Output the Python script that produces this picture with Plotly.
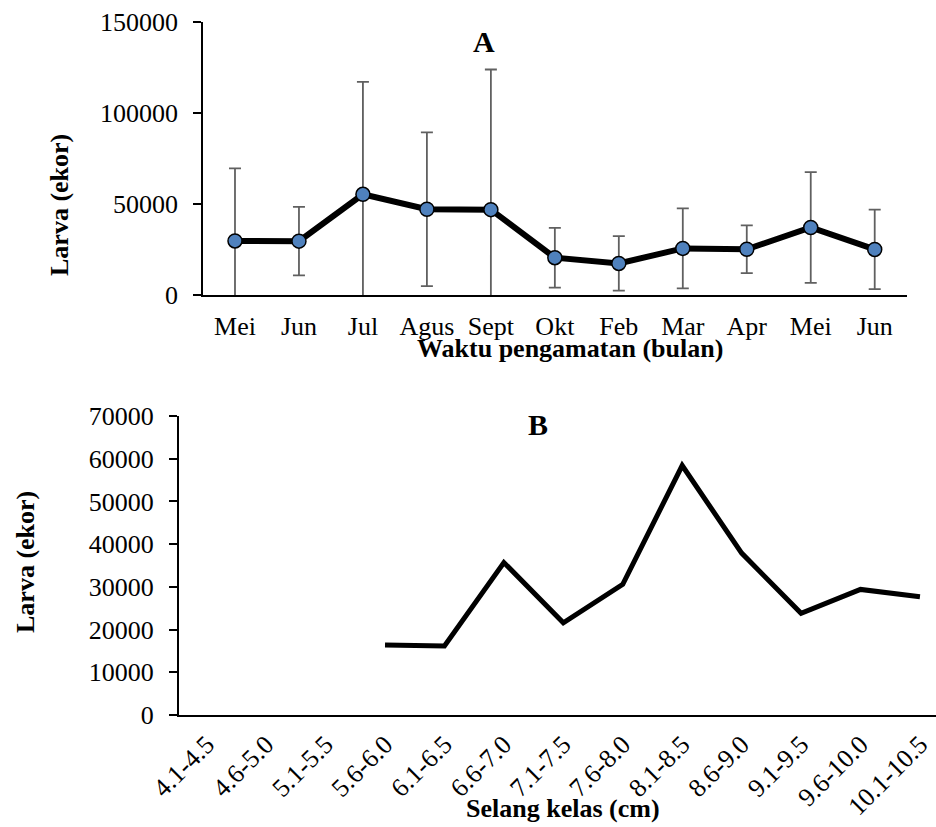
import plotly.graph_objects as go

# Panel A data
months = ["Mei", "Jun", "Jul", "Agus", "Sept", "Okt", "Feb", "Mar", "Apr", "Mei", "Jun"]
larva_mean = [29700, 29600, 55300, 47100, 46900, 20500, 17350, 25600, 25150, 37100, 25050]
larva_sd = [39900, 18800, 61800, 42200, 77000, 16400, 14950, 22000, 13150, 30400, 21850]

# Panel B data
size_classes = ["4.1-4.5", "4.6-5.0", "5.1-5.5", "5.6-6.0", "6.1-6.5", "6.6-7.0", "7.1-7.5",
                "7.6-8.0", "8.1-8.5", "8.6-9.0", "9.1-9.5", "9.6-10.0", "10.1-10.5"]
larva_by_size = [None, None, None, 16400, 16150, 35700, 21600, 30600, 58400, 37900, 23800, 29400, 27700]

FONT = "Liberation Serif"
W, H = 936, 827

xa = list(range(len(months)))

fig = go.Figure()
fig.add_trace(go.Scatter(
    x=xa, y=larva_mean, mode="lines+markers",
    line=dict(color="black", width=6),
    marker=dict(size=14, color="#4F81BD", line=dict(color="black", width=1.5)),
    error_y=dict(type="data", array=larva_sd, symmetric=True, color="#606060", thickness=1.8, width=6),
    xaxis="x", yaxis="y", showlegend=False,
))
fig.add_trace(go.Scatter(
    x=size_classes, y=larva_by_size, mode="lines",
    line=dict(color="black", width=5),
    connectgaps=False,
    xaxis="x2", yaxis="y2", showlegend=False,
))

tickfont = dict(family=FONT, size=26, color="black")

fig.update_layout(
    width=W, height=H,
    margin=dict(l=0, r=0, t=0, b=0),
    paper_bgcolor="white", plot_bgcolor="white",
    xaxis=dict(domain=[203 / W, 906.7 / W], range=[-0.5, 10.5],
               tickvals=xa, ticktext=months, tickfont=tickfont,
               showline=True, linecolor="black", linewidth=2,
               ticks="outside", ticklen=7, tickcolor="rgba(0,0,0,0)",
               showgrid=False, zeroline=False, anchor="y", automargin=False),
    yaxis=dict(domain=[(H - 295) / H, (H - 22) / H], range=[0, 150000], dtick=50000,
               tickformat="d",
               tickfont=tickfont, showline=True, linecolor="black", linewidth=1.5,
               ticks="outside", ticklen=8, tickwidth=1.5, tickcolor="black",
               ticklabelstandoff=10,
               showgrid=False, zeroline=False, anchor="x", automargin=False),
    xaxis2=dict(domain=[179 / W, 1.0], range=[-0.466, 12.27], type="category",
                tickfont=tickfont, tickangle=-45,
                showline=True, linecolor="black", linewidth=2,
                ticks="outside", ticklen=2, tickcolor="rgba(0,0,0,0)",
                showgrid=False, zeroline=False, anchor="y2", automargin=False),
    yaxis2=dict(domain=[(H - 715) / H, (H - 416) / H], range=[0, 70000], dtick=10000,
                tickformat="d",
                tickfont=tickfont, showline=True, linecolor="black", linewidth=2,
                ticks="outside", ticklen=8, tickwidth=1.5, tickcolor="black",
                ticklabelstandoff=10,
                showgrid=False, zeroline=False, anchor="x2", automargin=False),
)

def ann(text, x, y, size, angle=0):
    fig.add_annotation(text=text, x=x / W, y=1 - y / H, xref="paper", yref="paper",
                       showarrow=False, textangle=angle, xanchor="center", yanchor="middle",
                       font=dict(family=FONT, size=size, color="black"))

ann("<b>A</b>", 484, 42, 30)
ann("<b>B</b>", 538, 424, 30)
ann("<b>Waktu pengamatan (bulan)</b>", 570, 348, 26)
ann("<b>Selang kelas (cm)</b>", 563, 808, 26)
ann("<b>Larva (ekor)</b>", 60, 205, 26, -90)
ann("<b>Larva (ekor)</b>", 25, 562, 26, -90)

fig.write_html("out.html", config={"displayModeBar": False},
               post_script="document.body.style.margin='0px';document.body.style.overflow='hidden';")
